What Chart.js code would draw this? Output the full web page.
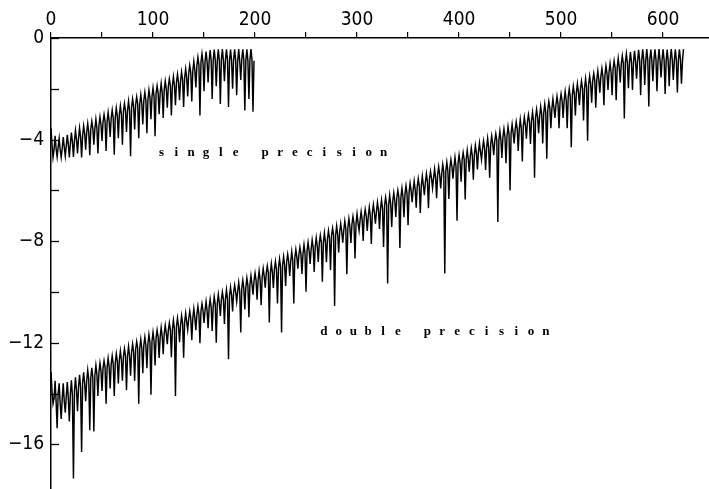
<!DOCTYPE html>
<html><head><meta charset="utf-8">
<script src="https://cdn.jsdelivr.net/npm/chart.js@4"></script>
<style>html,body{margin:0;padding:0;background:#fff}#wrap{width:709px;height:489px}</style>
</head><body><div id="wrap"><canvas id="c" width="709" height="489"></canvas></div>
<script>
// Each period of 4 x-units: envelope top at x=4j, band edge at 4j+1, spike at 4j+2, band edge at 4j+3
const singleTop = [-3.55,-3.85,-3.95,-3.90,-3.81,-3.72,-3.64,-3.55,-3.46,-3.37,
 -3.28,-3.20,-3.11,-3.02,-2.93,-2.84,-2.76,-2.67,-2.58,-2.49,
 -2.40,-2.32,-2.23,-2.14,-2.05,-1.96,-1.88,-1.79,-1.70,-1.61,
 -1.52,-1.43,-1.34,-1.22,-1.08,-0.92,-0.76,-0.62,-0.53,-0.48,
 -0.46,-0.45,-0.44,-0.45,-0.46,-0.45,-0.44,-0.45,-0.45,-0.44];
const singleBand = [-4.20,-4.40,-4.35,-4.30,-4.40,-4.35,-4.30,-4.25,-4.20,-4.15,
 -4.10,-4.05,-4.00,-3.95,-3.90,-3.85,-3.76,-3.72,-3.71,-3.59,
 -3.56,-3.58,-3.56,-3.44,-3.42,-3.31,-3.29,-3.29,-3.28,-3.16,
 -3.16,-3.13,-3.06,-3.02,-3.01,-2.89,-2.86,-2.87,-2.85,-2.73,
 -2.71,-2.61,-2.59,-2.59,-2.58,-2.46,-2.46,-2.42,-2.35,-2.31,
 -2.30,-2.19,-2.16,-2.17,-2.15,-2.03,-2.01,-1.90,-1.88,-1.88,
 -1.87,-1.75,-1.75,-1.71,-1.64,-1.57,-1.56,-1.39,-1.36,-1.30,
 -1.28,-1.09,-1.07,-0.96,-0.98,-0.93,-0.93,-0.92,-0.90,-0.89,
 -0.87,-0.91,-0.88,-0.86,-0.91,-0.87,-0.85,-0.92,-0.89,-0.86,
 -0.87,-0.91,-0.92,-0.85,-0.86,-0.90,-0.89,-0.88,-0.85,-0.90];
const singleDip = [-4.70,-4.68,-4.70,-4.65,-4.70,-4.68,-4.55,-4.70,-4.40,-4.62,
 -4.20,-4.55,-4.05,-4.45,-3.90,-4.60,-3.95,-4.20,-3.70,-4.66,
 -3.60,-3.95,-3.40,-3.75,-3.20,-3.87,-3.00,-3.15,-2.75,-3.05,
 -2.65,-2.45,-2.72,-2.30,-2.50,-1.95,-3.05,-2.10,-1.75,-2.40,
 -1.90,-2.60,-1.70,-2.72,-2.00,-2.25,-1.65,-2.85,-2.40,-2.90];
const doubleTop = [-13.15,-13.50,-13.60,-13.60,-13.55,-13.48,-13.36,-13.26,-13.17,-13.08,
 -12.99,-12.89,-12.80,-12.71,-12.61,-12.52,-12.43,-12.33,-12.24,-12.15,
 -12.05,-11.96,-11.87,-11.78,-11.68,-11.59,-11.50,-11.40,-11.31,-11.22,
 -11.12,-11.03,-10.94,-10.84,-10.75,-10.66,-10.57,-10.47,-10.38,-10.29,
 -10.19,-10.10,-10.01,-9.91,-9.82,-9.73,-9.63,-9.54,-9.45,-9.36,
 -9.26,-9.17,-9.08,-8.98,-8.89,-8.80,-8.70,-8.61,-8.52,-8.42,
 -8.33,-8.24,-8.14,-8.05,-7.96,-7.87,-7.77,-7.68,-7.59,-7.49,
 -7.40,-7.31,-7.21,-7.12,-7.03,-6.93,-6.84,-6.75,-6.66,-6.56,
 -6.47,-6.38,-6.28,-6.19,-6.10,-6.00,-5.91,-5.82,-5.72,-5.63,
 -5.54,-5.44,-5.35,-5.26,-5.16,-5.07,-4.98,-4.89,-4.79,-4.70,
 -4.61,-4.51,-4.42,-4.33,-4.23,-4.14,-4.05,-3.95,-3.86,-3.77,
 -3.67,-3.58,-3.49,-3.40,-3.30,-3.21,-3.12,-3.02,-2.92,-2.81,
 -2.70,-2.60,-2.50,-2.40,-2.30,-2.20,-2.10,-2.00,-1.90,-1.80,
 -1.70,-1.60,-1.50,-1.40,-1.30,-1.20,-1.10,-1.00,-0.90,-0.80,
 -0.70,-0.62,-0.55,-0.50,-0.47,-0.45,-0.44,-0.46,-0.45,-0.44,
 -0.45,-0.46,-0.44,-0.45,-0.45,-0.44];
const doubleBand = [-13.90,-14.20,-14.30,-14.00,-14.40,-14.20,-14.30,-14.10,-14.20,-14.00,
 -14.10,-13.90,-13.90,-13.75,-13.75,-13.60,-13.60,-13.50,-13.45,-13.40,
 -13.39,-13.29,-13.25,-13.16,-13.11,-13.00,-12.98,-12.97,-12.96,-12.84,
 -12.84,-12.80,-12.73,-12.68,-12.67,-12.55,-12.52,-12.53,-12.51,-12.38,
 -12.36,-12.25,-12.23,-12.23,-12.22,-12.10,-12.10,-12.05,-11.98,-11.94,
 -11.93,-11.81,-11.78,-11.78,-11.76,-11.64,-11.62,-11.51,-11.49,-11.48,
 -11.47,-11.35,-11.35,-11.31,-11.24,-11.19,-11.18,-11.06,-11.03,-11.04,
 -11.02,-10.90,-10.88,-10.76,-10.74,-10.74,-10.73,-10.61,-10.61,-10.56,
 -10.49,-10.45,-10.44,-10.32,-10.29,-10.29,-10.27,-10.15,-10.13,-10.02,
 -10.00,-9.99,-9.98,-9.86,-9.86,-9.82,-9.75,-9.71,-9.70,-9.57,
 -9.54,-9.55,-9.53,-9.41,-9.39,-9.27,-9.25,-9.25,-9.24,-9.12,
 -9.12,-9.07,-9.00,-8.96,-8.95,-8.83,-8.80,-8.80,-8.78,-8.66,
 -8.64,-8.53,-8.51,-8.50,-8.49,-8.37,-8.37,-8.33,-8.26,-8.22,
 -8.21,-8.08,-8.05,-8.06,-8.04,-7.92,-7.90,-7.78,-7.76,-7.76,
 -7.75,-7.63,-7.63,-7.58,-7.51,-7.47,-7.46,-7.34,-7.31,-7.31,
 -7.29,-7.17,-7.15,-7.04,-7.02,-7.02,-7.01,-6.88,-6.88,-6.84,
 -6.77,-6.73,-6.72,-6.59,-6.56,-6.57,-6.55,-6.43,-6.41,-6.29,
 -6.27,-6.27,-6.26,-6.14,-6.14,-6.09,-6.02,-5.98,-5.97,-5.85,
 -5.82,-5.82,-5.80,-5.68,-5.66,-5.55,-5.53,-5.52,-5.51,-5.39,
 -5.39,-5.35,-5.28,-5.24,-5.23,-5.10,-5.07,-5.08,-5.06,-4.94,
 -4.92,-4.80,-4.78,-4.78,-4.77,-4.65,-4.65,-4.60,-4.53,-4.49,
 -4.48,-4.36,-4.33,-4.33,-4.31,-4.19,-4.17,-4.06,-4.04,-4.03,
 -4.02,-3.90,-3.90,-3.86,-3.79,-3.75,-3.74,-3.61,-3.58,-3.59,
 -3.57,-3.45,-3.43,-3.31,-3.29,-3.28,-3.27,-3.13,-3.13,-3.07,
 -3.00,-2.95,-2.94,-2.81,-2.78,-2.78,-2.76,-2.63,-2.61,-2.49,
 -2.47,-2.46,-2.45,-2.32,-2.32,-2.27,-2.20,-2.15,-2.14,-2.01,
 -1.98,-1.98,-1.96,-1.83,-1.81,-1.69,-1.67,-1.66,-1.65,-1.52,
 -1.52,-1.47,-1.40,-1.35,-1.34,-1.21,-1.18,-1.18,-1.16,-1.03,
 -1.01,-0.96,-1.00,-0.97,-0.95,-0.95,-0.92,-0.91,-0.87,-0.91,
 -0.86,-0.90,-0.88,-0.85,-0.91,-0.87,-0.84,-0.92,-0.89,-0.86,
 -0.87,-0.91,-0.92,-0.85,-0.86,-0.90,-0.89,-0.88,-0.85,-0.90];
const doubleDip = [-14.40,-15.37,-15.00,-14.75,-15.10,-17.35,-14.70,-16.30,-14.30,-15.45,
 -15.50,-14.10,-13.90,-14.40,-13.80,-14.10,-13.60,-13.50,-13.87,-13.30,
 -13.50,-14.40,-13.20,-13.00,-14.05,-12.90,-12.60,-12.45,-12.06,-12.57,
 -14.10,-11.98,-12.59,-11.49,-11.90,-11.51,-12.02,-11.22,-11.43,-11.54,
 -12.00,-10.95,-11.26,-12.65,-10.77,-10.38,-11.60,-10.69,-11.00,-10.11,
 -10.31,-10.52,-9.83,-11.20,-9.84,-10.45,-11.60,-9.76,-9.37,-10.45,
 -9.08,-9.29,-9.99,-8.90,-9.21,-8.82,-9.60,-8.83,-9.14,-10.55,
 -8.45,-8.06,-9.30,-8.07,-8.68,-7.58,-7.99,-7.60,-8.11,-7.31,
 -7.52,-8.23,-9.67,-7.44,-7.05,-8.27,-7.06,-7.37,-6.47,-6.68,
 -6.89,-6.19,-6.70,-5.91,-6.31,-5.92,-9.27,-6.34,-5.54,-7.20,
 -5.66,-6.36,-5.27,-5.58,-5.18,-4.79,-5.20,-5.50,-4.61,-7.25,
 -4.72,-4.93,-6.00,-4.15,-4.45,-4.86,-3.97,-4.17,-5.50,-3.75,
 -4.15,-4.75,-3.55,-3.15,-3.55,-3.15,-3.55,-4.30,-3.05,-2.65,
 -3.25,-4.05,-2.55,-2.75,-2.15,-2.65,-2.05,-2.25,-2.45,-1.75,
 -3.17,-1.98,-2.05,-1.60,-2.25,-1.85,-2.70,-1.70,-2.10,-1.55,
 -2.20,-1.90,-1.65,-2.15,-1.80];
const xUnit = 1;           // spacing between successive samples
const xTicks = {min: 0, max: 645, step: 50, labelEvery: 100};
const yTicks = {min: -17.76, max: 0, step: 2, labelEvery: 4};
const annotations = ['single precision', 'double precision'];
const annotationX = [105.5, 264.5];
const annotationY = [-4.5, -11.55];

function buildSeries(tops, bands, dips) {
  const pts = [];
  for (let i = 0; i < tops.length; i++) {
    pts.push({x: 4 * i * xUnit, y: tops[i]});
    if (i < dips.length) {
      pts.push({x: (4 * i + 1) * xUnit, y: bands[2 * i]});
      pts.push({x: (4 * i + 2) * xUnit, y: dips[i]});
      pts.push({x: (4 * i + 3) * xUnit, y: bands[2 * i + 1]});
    }
  }
  return pts;
}

const tickFont = {family: "'Liberation Sans Narrow','DejaVu Sans Condensed','Liberation Sans',sans-serif", size: 19};

const innerTicks = {
  id: 'innerTicks',
  afterDraw(chart) {
    const ctx = chart.ctx, ys = chart.scales.y, ca = chart.chartArea;
    ctx.save();
    ctx.strokeStyle = '#000'; ctx.lineWidth = 1.3;
    ys.ticks.forEach(t => {
      const py = Math.round(ys.getPixelForValue(t.value)) + 0.5;
      ctx.beginPath(); ctx.moveTo(ca.left, py); ctx.lineTo(ca.left + 8, py); ctx.stroke();
    });
    ctx.restore();
  }
};
const textLabels = {
  id: 'textLabels',
  afterDatasetsDraw(chart) {
    const ctx = chart.ctx, xs = chart.scales.x, ys = chart.scales.y;
    ctx.save();
    ctx.fillStyle = '#000';
    ctx.font = "bold 13px 'Liberation Serif', serif";
    ctx.textAlign = 'center'; ctx.textBaseline = 'middle';
    annotations.forEach((s, k) => {
      const x0 = xs.getPixelForValue(annotationX[k]);
      const y0 = ys.getPixelForValue(annotationY[k]);
      for (let i = 0; i < s.length; i++) ctx.fillText(s[i], x0 + 3 + i * 14.8, y0);
    });
    ctx.restore();
  }
};

function fixBox(s, prop, size) {
  s[prop] = size;
  s.paddingTop = 0; s.paddingBottom = 0; s.paddingLeft = 0; s.paddingRight = 0;
}

new Chart(document.getElementById('c'), {
  type: 'line',
  data: {datasets: [
    {label: 'single precision', data: buildSeries(singleTop, singleBand, singleDip)},
    {label: 'double precision', data: buildSeries(doubleTop, doubleBand, doubleDip)}
  ]},
  options: {
    responsive: false, animation: false, devicePixelRatio: 1,
    layout: {padding: 0},
    elements: {line: {borderColor: '#000', borderWidth: 1.45, tension: 0, borderJoinStyle: 'miter'},
               point: {radius: 0}},
    plugins: {legend: {display: false}, tooltip: {enabled: false}},
    scales: {
      x: {type: 'linear', position: 'top', min: xTicks.min, max: xTicks.max,
        afterFit: s => fixBox(s, 'height', 38),
        border: {color: '#000', width: 1.5},
        grid: {drawOnChartArea: false, drawTicks: true, tickLength: 6, color: '#000', lineWidth: 1.2},
        ticks: {stepSize: xTicks.step, includeBounds: false, autoSkip: false, maxRotation: 0,
          color: '#000', font: tickFont, padding: 1,
          callback: v => (v % xTicks.labelEvery === 0 ? String(v) : '')}},
      y: {type: 'linear', min: yTicks.min, max: yTicks.max,
        afterFit: s => fixBox(s, 'width', 51),
        border: {color: '#000', width: 1.5},
        grid: {drawOnChartArea: false, drawTicks: false},
        ticks: {stepSize: yTicks.step, includeBounds: false, autoSkip: false,
          color: '#000', font: tickFont, padding: 7,
          callback: v => (Math.round(v) % yTicks.labelEvery === 0 ? (v === 0 ? '0' : '\u2212' + Math.abs(v)) : '')}}
    }
  },
  plugins: [innerTicks, textLabels]
});
</script></body></html>
